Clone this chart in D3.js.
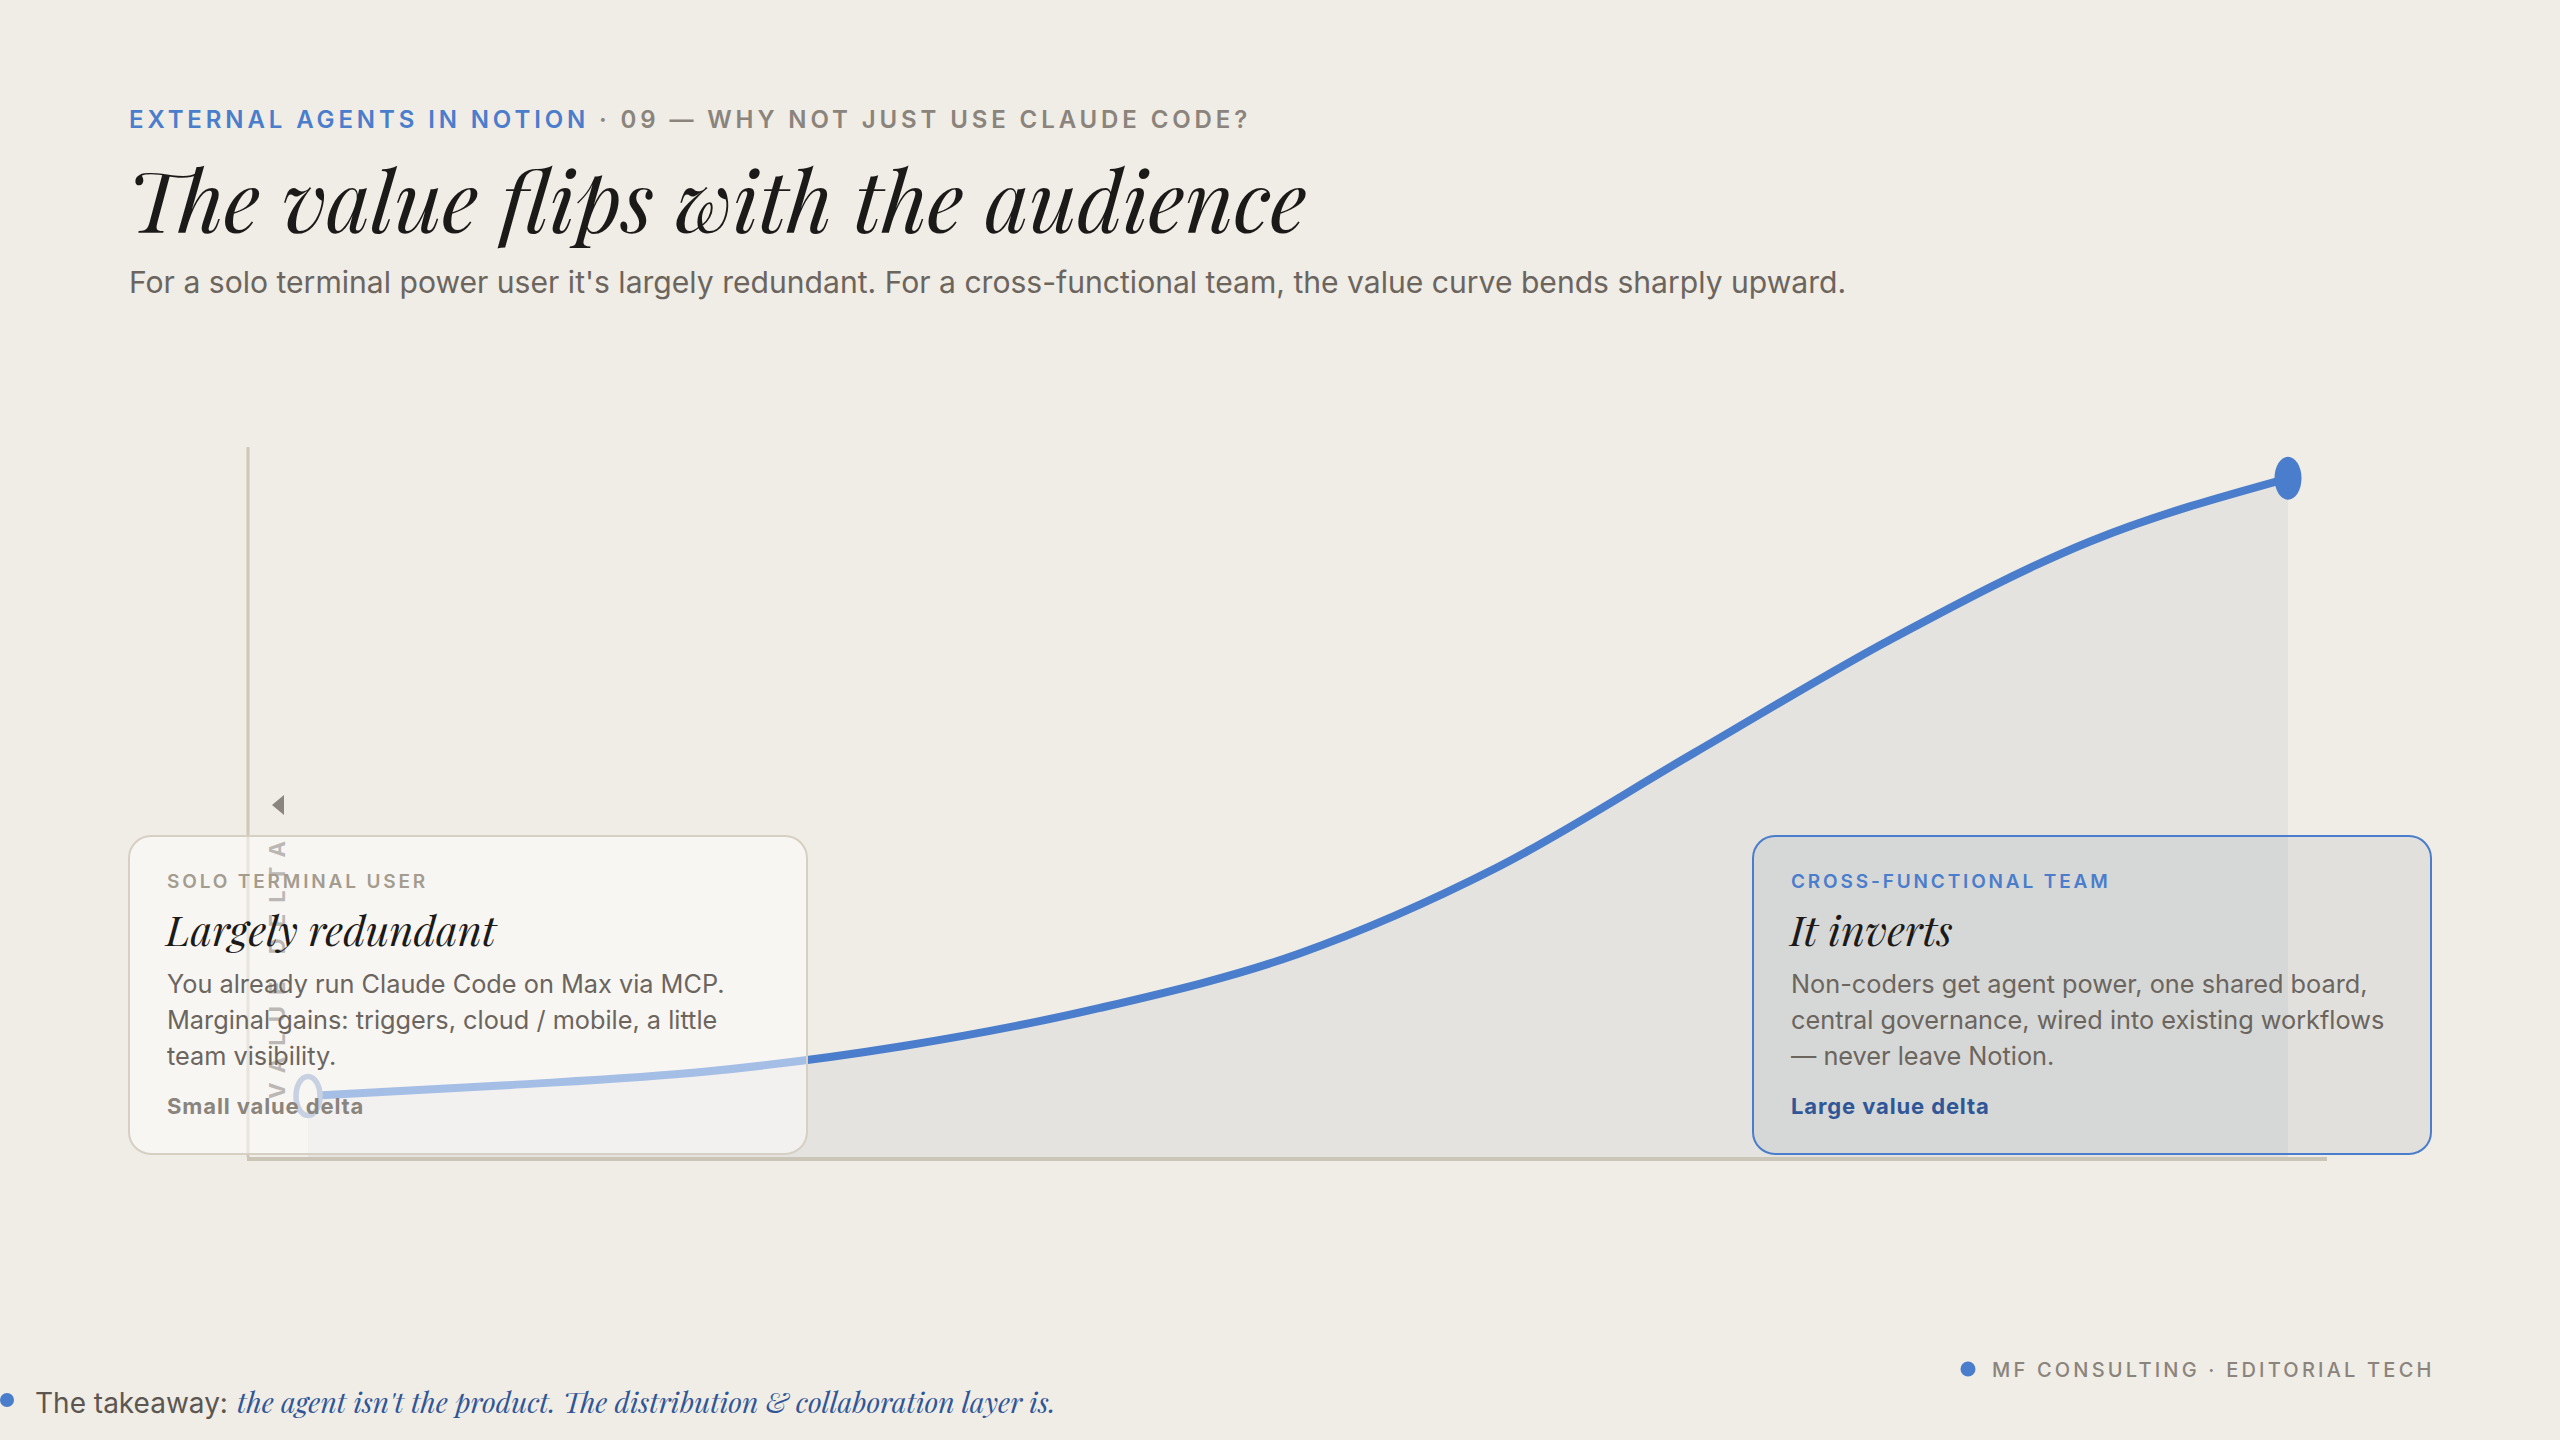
<!DOCTYPE html>
<html>
<head>
<meta charset="utf-8">
<script src="https://cdn.jsdelivr.net/npm/d3@7"></script>
<style>
  html, body { margin: 0; padding: 0; background: #f0ece6; }
  svg { display: block; }
</style>
</head>
<body>
<svg id="svg"></svg>
<script>
// audience breadth (0 = solo terminal user, 10 = cross-functional team)
const audience = [0, 1, 2, 3, 4, 5, 6, 7, 8, 9, 10];
// value delta (0-100)
const valueDelta = [8.6, 10.1, 12.0, 15.6, 21.0, 28.6, 40.7, 56.9, 73.0, 86.7, 95.6];

const eyebrow = ["EXTERNAL AGENTS IN NOTION", " · 09 — WHY NOT JUST USE CLAUDE CODE?"];
const title = "The value flips with the audience";
const subtitle = "For a solo terminal power user it's largely redundant. For a cross-functional team, the value curve bends sharply upward.";

const cardKickers = ["SOLO TERMINAL USER", "CROSS-FUNCTIONAL TEAM"];
const cardHeads = ["Largely redundant", "It inverts"];
const cardBodies = [
    ["You already run Claude Code on Max via MCP.", "Marginal gains: triggers, cloud / mobile, a little", "team visibility."],
    ["Non-coders get agent power, one shared board,", "central governance, wired into existing workflows", "— never leave Notion."]
];
const cardDeltas = ["Small value delta", "Large value delta"];

const W = 2560, H = 1440;
const sans = "Inter, 'Noto Sans', sans-serif";
const serif = "'Playfair Display', 'Liberation Serif', 'DejaVu Serif', serif";
const blue = "#4a7dcb";

const svg = d3.select("#svg").attr("width", W).attr("height", H);
svg.append("rect").attr("width", W).attr("height", H).attr("fill", "#f0ece6");

// fit a text node to a measured width from the picture
function fit(sel, target) {
    const fs = +sel.attr("font-size");
    const w = sel.node().getComputedTextLength();
    sel.attr("font-size", fs * target / w);
    return sel;
}

// ****************** header ***************************
const eb = svg.append("text")
    .attr("x", 129).attr("y", 128)
    .attr("font-family", sans).attr("font-size", 24).attr("font-weight", 600)
    .attr("letter-spacing", "0.162em");
eb.append("tspan").attr("fill", blue).text(eyebrow[0]);
eb.append("tspan").attr("fill", "#8a847c").text(eyebrow[1]);

const t = svg.append("text")
    .attr("x", 127).attr("y", 233)
    .attr("font-family", serif).attr("font-style", "italic").attr("font-size", 90)
    .attr("fill", "#1c1a18")
    .text(title);
fit(t, 1180);

svg.append("text")
    .attr("x", 129).attr("y", 293)
    .attr("font-family", sans).attr("font-size", 30.1)
    .attr("fill", "#6b655e")
    .text(subtitle);

// ****************** chart ***************************
const x = d3.scaleLinear().domain([0, 10]).range([308, 2288]);
const y = d3.scaleLinear().domain([0, 100]).range([1157, 447]);

const pts = audience.map((a, i) => [a, valueDelta[i]]);

const area = d3.area()
    .x(d => x(d[0]))
    .y0(y(0))
    .y1(d => y(d[1]))
    .curve(d3.curveMonotoneX);

const line = d3.line()
    .x(d => x(d[0]))
    .y(d => y(d[1]))
    .curve(d3.curveMonotoneX);

svg.append("path")
    .attr("d", area(pts))
    .attr("fill", "#e4e3df");

// axes: bare domain lines, no ticks
svg.append("line")
    .attr("x1", 248).attr("x2", 248)
    .attr("y1", y(100)).attr("y2", y(0))
    .attr("stroke", "#cfc8ba").attr("stroke-width", 3);
svg.append("line")
    .attr("x1", 247).attr("x2", 2327)
    .attr("y1", y(0) + 2).attr("y2", y(0) + 2)
    .attr("stroke", "#cbc5b7").attr("stroke-width", 4);

// rotated axis label + arrow
const yl = svg.append("text")
    .attr("transform", "translate(285,1099) rotate(-90)")
    .attr("font-family", sans).attr("font-size", 22).attr("font-weight", 700)
    .attr("fill", "#746f68")
    .text("VALUE DELTA");
const ylw = yl.node().getComputedTextLength();
yl.attr("letter-spacing", ((258 - ylw) / 10) + "px");
svg.append("path")
    .attr("d", "M272,805 L284,795 L284,815 Z")
    .attr("fill", "#8a857e");

svg.append("path")
    .attr("d", line(pts))
    .attr("fill", "none")
    .attr("stroke", blue)
    .attr("stroke-width", 8)
    .attr("stroke-linecap", "round");

// start + end markers (stretched like the source)
const first = pts[0], last = pts[pts.length - 1];
svg.append("ellipse")
    .attr("cx", x(first[0])).attr("cy", y(first[1]))
    .attr("rx", 12).attr("ry", 19.5)
    .attr("fill", "#f0ece6")
    .attr("stroke", "#8fa3c2").attr("stroke-width", 5.5);
svg.append("ellipse")
    .attr("cx", x(last[0])).attr("cy", y(last[1]))
    .attr("rx", 13.5).attr("ry", 21.5)
    .attr("fill", blue);

// ****************** cards ***************************
const cards = [
    { x: 129, fill: "rgba(255,255,255,0.5)", stroke: "#d5cfc4", kicker: "#a39c8f", delta: "#8a847c" },
    { x: 1753, fill: "rgba(100,115,145,0.1)", stroke: blue, kicker: blue, delta: "#2f5696" }
];
const cardY = 836, cardW = 678, cardH = 318;
let headSize = 44;

cards.forEach((c, i) => {
    const g = svg.append("g").attr("transform", `translate(${c.x},${cardY})`);
    g.append("rect")
        .attr("x", 0).attr("y", 0)
        .attr("width", cardW).attr("height", cardH)
        .attr("rx", 22).attr("ry", 22)
        .attr("fill", c.fill)
        .attr("stroke", c.stroke).attr("stroke-width", 2);

    g.append("text")
        .attr("x", 38).attr("y", 52)
        .attr("font-family", sans).attr("font-size", 19).attr("font-weight", 600)
        .attr("letter-spacing", "0.15em")
        .attr("fill", c.kicker)
        .text(cardKickers[i]);

    const h = g.append("text")
        .attr("x", 37).attr("y", 110)
        .attr("font-family", serif).attr("font-style", "italic").attr("font-size", headSize)
        .attr("fill", "#1c1a18")
        .text(cardHeads[i]);
    if (i === 0) { fit(h, 330); headSize = +h.attr("font-size"); }

    cardBodies[i].forEach((ln, j) => {
        g.append("text")
            .attr("x", 38).attr("y", 157 + j * 35.8)
            .attr("font-family", sans).attr("font-size", 25.3)
            .attr("fill", "#6b655e")
            .text(ln);
    });

    g.append("text")
        .attr("x", 38).attr("y", 278)
        .attr("font-family", sans).attr("font-size", 22).attr("font-weight", 700)
        .attr("letter-spacing", "0.04em")
        .attr("fill", c.delta)
        .text(cardDeltas[i]);
});

// ****************** footer ***************************
svg.append("circle").attr("cx", 1968).attr("cy", 1369).attr("r", 7.5).attr("fill", blue);
svg.append("text")
    .attr("x", 1992).attr("y", 1377)
    .attr("font-family", sans).attr("font-size", 20).attr("font-weight", 500)
    .attr("letter-spacing", "0.16em")
    .attr("fill", "#8a847c")
    .text("MF CONSULTING · EDITORIAL TECH");

svg.append("circle").attr("cx", 7).attr("cy", 1400).attr("r", 7).attr("fill", blue);
svg.append("text")
    .attr("x", 35).attr("y", 1413)
    .attr("font-family", sans).attr("font-size", 28)
    .attr("fill", "#5c5650")
    .text("The takeaway: ");
const it = svg.append("text")
    .attr("x", 237).attr("y", 1413)
    .attr("font-family", serif).attr("font-style", "italic").attr("font-size", 30)
    .attr("fill", "#2f5696")
    .text("the agent isn't the product. The distribution & collaboration layer is.");
fit(it, 819);
</script>
</body>
</html>
